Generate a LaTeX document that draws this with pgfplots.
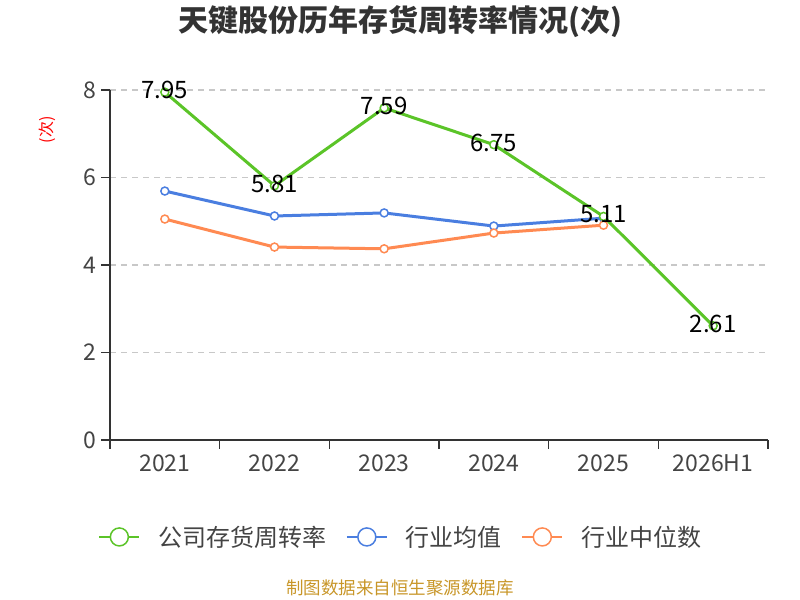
\documentclass[border=0pt]{standalone}
\usepackage{fontspec}
\setmainfont{Noto Sans CJK SC}
\usepackage{pgfplots}
\pgfplotsset{compat=1.18}
\definecolor{cg}{RGB}{91,196,40}
\definecolor{cb}{RGB}{74,126,224}
\definecolor{co}{RGB}{255,138,82}
\definecolor{axc}{RGB}{51,51,51}
\definecolor{tickc}{RGB}{68,68,68}
\definecolor{gridc}{RGB}{200,200,200}
\definecolor{srcc}{RGB}{200,150,40}
\begin{document}
\begin{tikzpicture}[x=1bp,y=1bp]
\useasboundingbox (0,0) rectangle (800,600);
\node[font=\fontsize{30bp}{36bp}\selectfont\bfseries, text=axc] at (400,578) {天键股份历年存货周转率情况(次)};
\node[rotate=90, text=red, font=\fontsize{16bp}{18bp}\selectfont] at (47,470) {(次)};
\node[text=srcc, font=\fontsize{17.5bp}{20bp}\selectfont] at (400,12) {制图数据来自恒生聚源数据库};
\begin{axis}[
  at={(110bp,160bp)}, anchor=south west, scale only axis,
  width=658bp, height=350bp,
  xmin=-0.5, xmax=5.5, ymin=0, ymax=8,
  ytick={0,2,4,6,8},
  xtick={-0.5,0.5,...,5.5},
  x tick label as interval,
  xticklabels={2021,2022,2023,2024,2025,2026H1},
  axis x line*=bottom, axis y line*=left,
  axis line style={-, draw=axc, line width=1.5bp},
  tick align=outside, major tick length=9bp,
  tick style={draw=axc, line width=1.5bp},
  ymajorgrids, major grid style={draw=gridc, line width=1.2bp, dash pattern=on 6bp off 5bp},
  ticklabel style={font=\fontsize{23bp}{27bp}\selectfont, text=tickc},
  /pgf/number format/assume math mode=true,
  yticklabel style={xshift=-1bp},
  xticklabel style={yshift=-2bp},
  legend style={at={(axis description cs:0.442,-0.277)}, anchor=center, draw=none,
    font=\fontsize{24bp}{28bp}\selectfont, text=tickc,
    /tikz/every even column/.append style={column sep=18bp},
    /tikz/every odd column/.append style={column sep=16bp}},
  legend columns=3,
  legend image code/.code={
    \draw[#1, mark=none, line width=1.5bp] (0bp,0bp) -- (40bp,0bp);
    \draw[#1, line width=1.5bp, mark size=9bp] plot coordinates {(20bp,0bp)};
  },
  every axis plot/.append style={line width=3bp, mark=*, mark size=4bp, mark options={fill=white, line width=1.5bp}},
]
\addlegendimage{cg}
\addlegendentry{公司存货周转率}
\addlegendimage{cb}
\addlegendentry{行业均值}
\addlegendimage{co}
\addlegendentry{行业中位数}
\addplot[cb, forget plot] coordinates {(0,5.69) (1,5.12) (2,5.19) (3,4.89) (4,5.07)};
\addplot[co, forget plot] coordinates {(0,5.05) (1,4.41) (2,4.37) (3,4.73) (4,4.91)};
\addplot[cg, forget plot,
  nodes near coords={\pgfmathprintnumber[fixed,precision=2,fixed zerofill]{\pgfplotspointmeta}},
  every node near coord/.append style={anchor=center, yshift=2bp, text=black, font=\fontsize{24bp}{28bp}\selectfont}
] coordinates {(0,7.95) (1,5.81) (2,7.59) (3,6.75) (4,5.11) (5,2.61)};
\end{axis}
\end{tikzpicture}
\end{document}
